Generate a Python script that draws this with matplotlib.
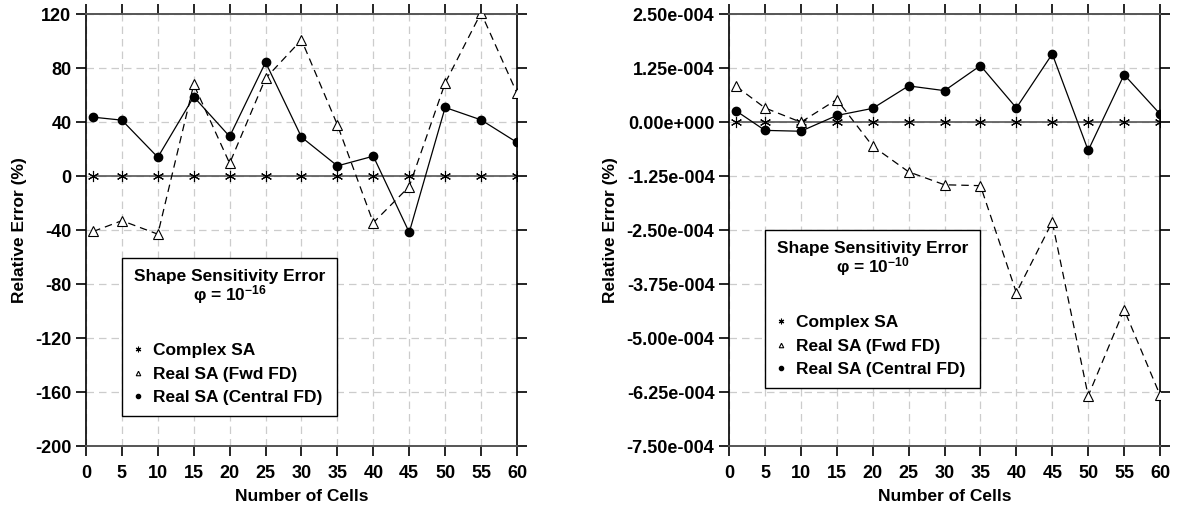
import numpy as np
import matplotlib.pyplot as plt
from matplotlib.ticker import FuncFormatter

plt.rcParams['font.family'] = ['Liberation Sans', 'DejaVu Sans']
plt.rcParams['font.weight'] = 'bold'
plt.rcParams['mathtext.fontset'] = 'custom'
plt.rcParams['mathtext.rm'] = 'Liberation Sans:bold'
plt.rcParams['mathtext.default'] = 'rm'
plt.rcParams['axes.unicode_minus'] = False

cells = [1, 5, 10, 15, 20, 25, 30, 35, 40, 45, 50, 55, 60]

# phi = 1e-16
complex_a = [0] * 13
fwd_a = [-41, -33, -43, 68, 9.5, 72.5, 101, 38, -34.5, -7.7, 69, 121, 61.5]
cen_a = [43.7, 41.5, 14, 58.8, 29.4, 84.4, 28.9, 7.6, 14.8, -41.7, 50.9, 41.7, 25]

# phi = 1e-10
complex_b = [0] * 13
fwd_b = [0.83e-4, 0.33e-4, 0.0, 0.525e-4, -0.556e-4, -1.15e-4, -1.45e-4, -1.47e-4,
         -3.95e-4, -2.31e-4, -6.34e-4, -4.34e-4, -6.32e-4]
cen_b = [0.26e-4, -0.19e-4, -0.21e-4, 0.155e-4, 0.32e-4, 0.84e-4, 0.73e-4, 1.31e-4,
         0.33e-4, 1.58e-4, -0.655e-4, 1.10e-4, 0.19e-4]

yticks_a = np.arange(-200, 121, 40)
yticks_b = np.arange(-7.5e-4, 2.6e-4, 1.25e-4)


def sci_fmt(v, pos):
    m, e = ('%.2e' % v).split('e')
    if abs(v) < 1e-12:
        m, e = '0.00', '+0'
    sign = '-' if int(e) < 0 else '+'
    return '%se%s%03d' % (m, sign, abs(int(e)))


fig = plt.figure(figsize=(11.86, 5.08), dpi=100)
ax1 = fig.add_axes([0.0725, 0.122, 0.3634, 0.850])
ax2 = fig.add_axes([0.6147, 0.122, 0.3634, 0.850])


def panel(ax, cx, fwd, cen, yt, expo, fmt=None):
    ax.plot(cells, cx, color='#555555', lw=1.2, marker=(6, 2, 0), ms=8,
            mec='black', mew=0.8, zorder=3, label='Complex SA')
    ax.plot(cells, fwd, color='black', lw=0.9, ls=(0, (6, 4)), marker='^', ms=6.5,
            mfc='white', mec='black', mew=0.8, zorder=4, label='Real SA (Fwd FD)')
    ax.plot(cells, cen, color='black', lw=0.9, marker='o', ms=6,
            mfc='black', mec='black', zorder=5, label='Real SA (Central FD)')
    ax.set_xlim(0, 60)
    ax.set_ylim(yt[0], yt[-1])
    ax.set_xticks(np.arange(0, 61, 5))
    ax.set_yticks(yt)
    if fmt:
        ax.yaxis.set_major_formatter(FuncFormatter(fmt))
    ax.grid(True, color='#cccccc', ls=(0, (6, 4)), lw=0.9)
    ax.tick_params(direction='out', length=7, width=1.2, labelsize=13,
                   top=True, right=True, colors='black')
    ax.tick_params(axis='x', pad=7)
    for s in ['top', 'bottom']:
        ax.spines[s].set_color('#555555')
        ax.spines[s].set_linewidth(1.4)
    for s in ['left', 'right']:
        ax.spines[s].set_linewidth(1.2)
    ax.set_xlabel('Number of Cells', fontsize=12.5, fontweight='bold', labelpad=5)
    ax.set_ylabel('Relative Error (%)', fontsize=12.5, fontweight='bold', labelpad=6)
    # legend box aligned from x=5 to x=35
    x0 = ax.transData.transform((5, 0))[0]
    x1 = ax.transData.transform((35, 0))[0]
    inv = ax.transAxes.inverted()
    fx0 = inv.transform((x0, 0))[0]
    fx1 = inv.transform((x1, 0))[0]
    top_px = 508 - (258 if fmt is None else 230)
    fy = (top_px - 62) / 432.0
    leg = ax.legend(loc='upper left', bbox_to_anchor=(fx0, fy, fx1 - fx0, 0.0),
                    mode='expand', fontsize=12.5, alignment='center',
                    title='Shape Sensitivity Error\n\u03c6 = $10^{%d}$\n\n' % expo,
                    title_fontsize=12.5, frameon=True, fancybox=False,
                    edgecolor='black', framealpha=1, markerscale=0.5,
                    handlelength=0.6, handletextpad=0.6, labelspacing=0.49,
                    borderpad=0.6, borderaxespad=0)
    leg.get_frame().set_linewidth(1.0)
    for h in leg.legend_handles:
        h.set_linestyle('None')
    leg.get_title().set_fontweight('bold')
    leg.get_title().set_multialignment('center')
    leg.get_title().set_linespacing(0.95)
    leg.set_zorder(10)


panel(ax1, complex_a, fwd_a, cen_a, yticks_a, -16)
panel(ax2, complex_b, fwd_b, cen_b, yticks_b, -10, sci_fmt)

fig.savefig('out.png', dpi=100)
